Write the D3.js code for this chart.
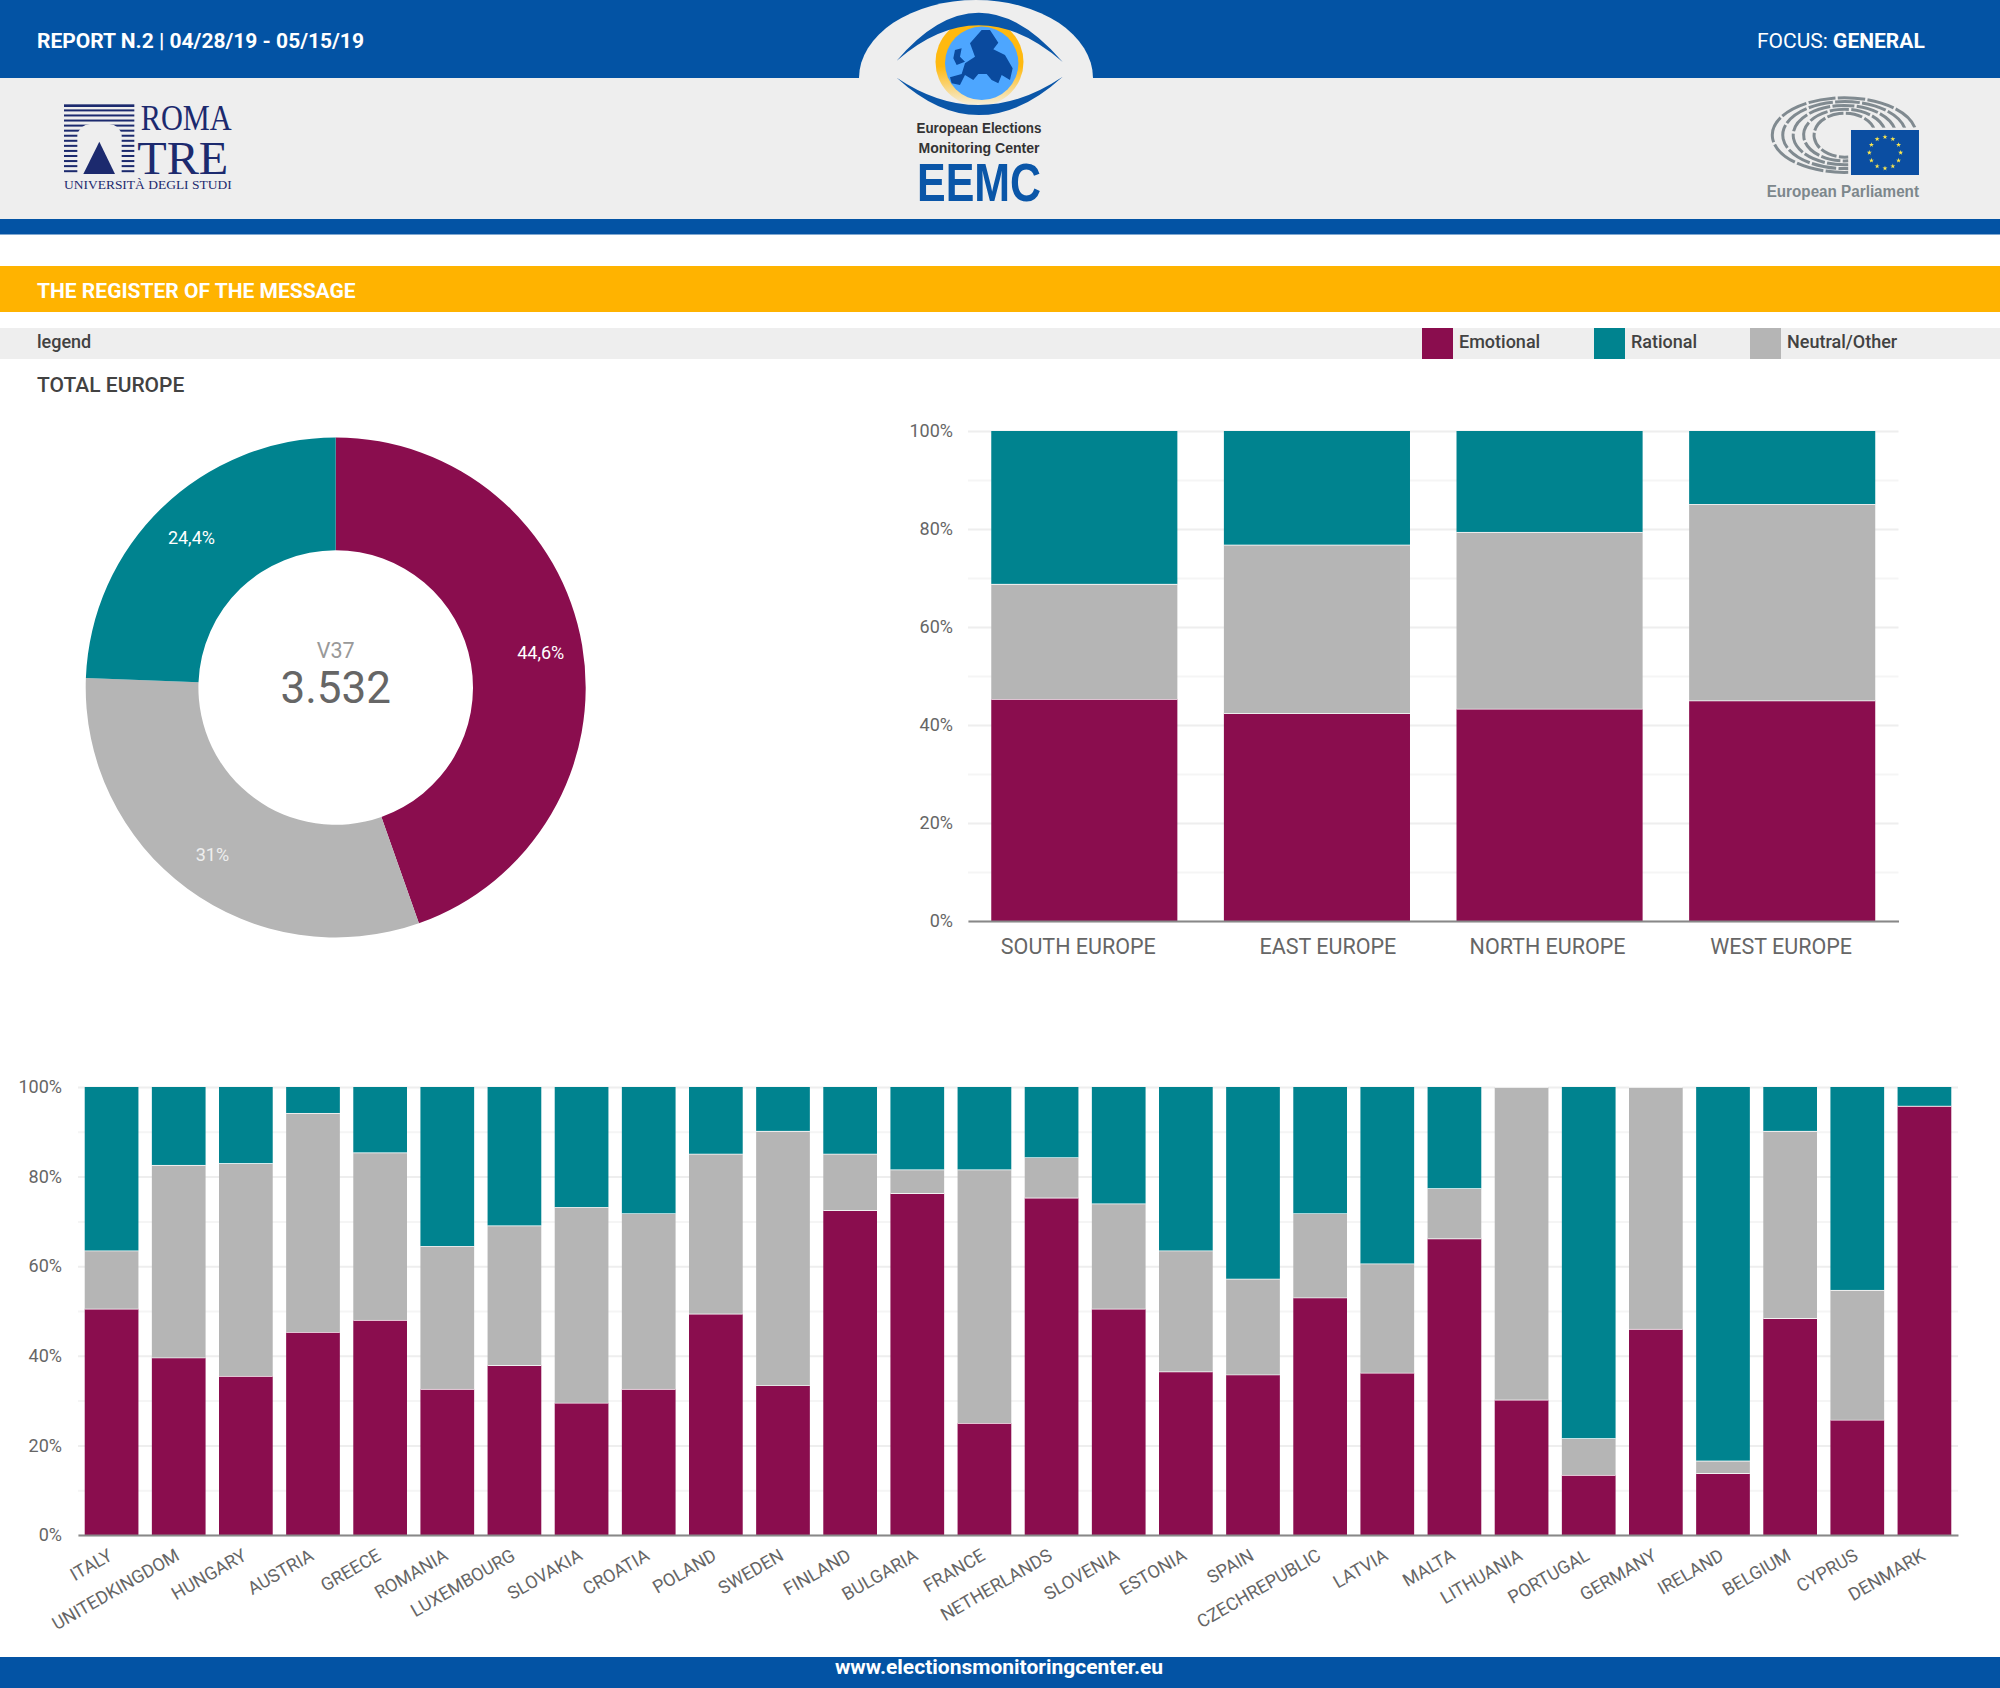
<!DOCTYPE html>

<html>
    <head>
        <meta charset="utf-8">
        <title>The register of the message</title>
        <style type="text/css">
            body {
                margin: 0;
                background-color: #ffffff;
            }

            svg {
                display: block;
            }

            text {
                font-family: Roboto, sans-serif;
            }

            .grid line {
                stroke-width: 2px;
            }

            .grid path, .ticks path {
                display: none;
            }

            .ticks text {
                fill: #666666;
            }

            .baseline path {
                stroke: #888888;
                stroke-width: 2px;
            }

            .baseline text {
                fill: #666666;
            }
        </style>

        <script src="https://d3js.org/d3.v7.min.js"></script>
    </head>

    <body>
        <svg id="drawing-place" width="2000" height="1688"></svg>

        <script>
            const seriesNames = ["Emotional", "Neutral/Other", "Rational"];
            const seriesColours = ["#8a0d4e", "#b5b5b5", "#00838f"];

            const legendNames = ["Emotional", "Rational", "Neutral/Other"];

            const totalValues = [44.6, 31, 24.4];
            const totalLabels = ["44,6%", "31%", "24,4%"];

            const regions = ["SOUTH EUROPE", "EAST EUROPE", "NORTH EUROPE", "WEST EUROPE"];
            const regionEmotional = [45.3, 42.4, 43.3, 45.0];
            const regionNeutral = [23.5, 34.4, 36.1, 40.1];
            const regionRational = [31.2, 23.2, 20.6, 14.9];

            const countries = ["ITALY", "UNITEDKINGDOM", "HUNGARY", "AUSTRIA", "GREECE", "ROMANIA", "LUXEMBOURG",
                "SLOVAKIA", "CROATIA", "POLAND", "SWEDEN", "FINLAND", "BULGARIA", "FRANCE", "NETHERLANDS", "SLOVENIA",
                "ESTONIA", "SPAIN", "CZECHREPUBLIC", "LATVIA", "MALTA", "LITHUANIA", "PORTUGAL", "GERMANY", "IRELAND",
                "BELGIUM", "CYPRUS", "DENMARK"];
            const countryEmotional = [50.5, 39.6, 35.5, 45.3, 48.0, 32.6, 37.9, 29.5, 32.6, 49.4, 33.4, 72.5, 76.3, 25.0,
                75.3, 50.5, 36.5, 35.8, 53.0, 36.2, 66.2, 30.2, 13.4, 46.0, 13.8, 48.4, 25.7, 95.8];
            const countryNeutral = [13.0, 43.0, 47.5, 48.9, 37.4, 31.9, 31.2, 43.7, 39.2, 35.7, 56.8, 12.6, 5.3, 56.6,
                9.0, 23.5, 27.0, 21.4, 18.8, 24.4, 11.2, 69.8, 8.2, 54.0, 2.8, 41.8, 29.0, 0];
            const countryRational = [36.5, 17.4, 17.0, 5.8, 14.6, 35.5, 30.9, 26.8, 28.2, 14.9, 9.8, 14.9, 18.4, 18.4,
                15.7, 26.0, 36.5, 42.8, 28.2, 39.4, 22.6, 0, 78.4, 0, 83.4, 9.8, 45.3, 4.2];

            const percentTicks = [0, 20, 40, 60, 80, 100];
            const gridTicks = [10, 30, 50, 70, 90];

            const svg = d3.select("#drawing-place");

            const blue = "#0353a4";
            const band = "#eeeeee";
            const dark = "#424242";

            function addText(parent, str, x, y, size, weight, fill, anchor) {
                return parent.append("text")
                    .text(str)
                    .attr("x", x)
                    .attr("y", y)
                    .attr("font-size", size)
                    .attr("font-weight", weight)
                    .attr("fill", fill)
                    .attr("text-anchor", anchor || "start");
            }

            // page furniture
            svg.append("rect").attr("width", 2000).attr("height", 78).attr("fill", blue);
            svg.append("rect").attr("y", 78).attr("width", 2000).attr("height", 141).attr("fill", band);
            svg.append("rect").attr("y", 219).attr("width", 2000).attr("height", 15.5).attr("fill", blue);
            svg.append("rect").attr("y", 266).attr("width", 2000).attr("height", 46).attr("fill", "#ffb300");
            svg.append("rect").attr("y", 328).attr("width", 2000).attr("height", 31).attr("fill", band);
            svg.append("rect").attr("y", 1657).attr("width", 2000).attr("height", 31).attr("fill", blue);

            addText(svg, "REPORT N.2 | 04/28/19 - 05/15/19", 37, 48, 21, 700, "#ffffff");
            const focus = addText(svg, "FOCUS: ", 1757, 48, 21, 400, "#ffffff");
            focus.append("tspan").text("GENERAL").attr("font-weight", 700);

            addText(svg, "THE REGISTER OF THE MESSAGE", 37, 298, 21, 700, "#ffffff");
            addText(svg, "legend", 37, 348, 18, 500, dark);
            addText(svg, "TOTAL EUROPE", 37, 392, 21, 500, dark);
            addText(svg, "www.electionsmonitoringcenter.eu", 999, 1674, 21, 700, "#ffffff", "middle");

            // legend
            const legendX = d3.scaleOrdinal().domain(legendNames).range([1422, 1594, 1750]);
            const colourOf = d3.scaleOrdinal().domain(seriesNames).range(seriesColours);

            legendNames.forEach(function(name) {
                svg.append("rect")
                    .attr("x", legendX(name))
                    .attr("y", 328)
                    .attr("width", 31)
                    .attr("height", 31)
                    .attr("fill", colourOf(name));
                addText(svg, name, legendX(name) + 37, 348, 18, 500, dark);
            });

            // logo: EEMC
            const eemc = svg.append("g");
            const iris = svg.append("defs").append("linearGradient")
                .attr("id", "iris")
                .attr("x1", 0).attr("y1", 0).attr("x2", 0).attr("y2", 1);
            iris.append("stop").attr("offset", "55%").attr("stop-color", "#ffb90f");
            iris.append("stop").attr("offset", "100%").attr("stop-color", "#f4efe0");

            eemc.append("path")
                .attr("d", "M859,78 A117,78 0 0 1 1093,78 Z")
                .attr("fill", band);
            eemc.append("circle").attr("cx", 979.5).attr("cy", 62).attr("r", 44).attr("fill", "url(#iris)");
            svg.select("defs").append("clipPath").attr("id", "globe")
                .append("circle").attr("cx", 981.7).attr("cy", 63.3).attr("r", 36.7);
            eemc.append("circle").attr("cx", 981.7).attr("cy", 63.3).attr("r", 36.7).attr("fill", "#4da6ff");
            eemc.append("g")
                .attr("clip-path", "url(#globe)")
                .append("path")
                .attr("transform", "translate(850,0) scale(0.3333)")
                .attr("d", "M300,232 L335,222 L345,190 L375,170 L360,130 L395,90 L420,90 L445,128 L430,148 L465,165 L488,205 L480,240 L455,225 L445,250 L425,240 L410,222 L385,222 L370,240 L345,225 L330,255 L305,250 Z M315,150 L335,145 L330,170 L345,185 L320,195 L310,175 Z")
                .attr("fill", "#0a4a9e");
            eemc.append("path")
                .attr("d", "M896.7,60.7 Q979,-36 1062.7,62 Q979,-11 896.7,60.7 Z")
                .attr("fill", "#0a56a8");
            eemc.append("path")
                .attr("d", "M896.7,77.7 Q979,153 1062.7,76.7 Q979,133 896.7,77.7 Z")
                .attr("fill", "#0a56a8");

            addText(eemc, "European Elections", 979, 133, 14, 700, "#333333", "middle")
                .style("font-family", "'Liberation Sans'")
                .attr("textLength", 125).attr("lengthAdjust", "spacingAndGlyphs");
            addText(eemc, "Monitoring Center", 979, 152.5, 14, 700, "#333333", "middle")
                .style("font-family", "'Liberation Sans'")
                .attr("textLength", 121).attr("lengthAdjust", "spacingAndGlyphs");
            addText(eemc, "EEMC", 979, 201, 54, 700, "#0a56a8", "middle")
                .style("font-family", "'Liberation Sans'")
                .attr("textLength", 124).attr("lengthAdjust", "spacingAndGlyphs");

            // logo: Roma Tre, sketched in zoomed units
            const romaColour = "#1c2a6e";
            const roma = svg.append("g").attr("transform", "translate(50,90) scale(0.3333)");
            d3.range(14).forEach(function(i) {
                roma.append("rect")
                    .attr("x", 42)
                    .attr("y", 43 + i * 15.2)
                    .attr("width", 211)
                    .attr("height", i < 1 ? 8 : 6)
                    .attr("fill", romaColour);
            });
            roma.append("path")
                .attr("d", "M82,256 L82,135 Q90,105 120,102 L178,102 Q208,105 215,135 L215,256 Z")
                .attr("fill", band);
            roma.append("path").attr("d", "M100,252 L148,155 L195,252 Z").attr("fill", romaColour);
            addText(roma, "ROMA", 272, 120, 108, 400, romaColour)
                .style("font-family", "'Liberation Serif'")
                .attr("textLength", 273).attr("lengthAdjust", "spacingAndGlyphs");
            addText(roma, "TRE", 262, 252, 138, 400, romaColour)
                .style("font-family", "'Liberation Serif'")
                .attr("textLength", 273).attr("lengthAdjust", "spacingAndGlyphs");
            addText(roma, "UNIVERSITÀ DEGLI STUDI", 42, 297, 40, 400, romaColour)
                .style("font-family", "'Liberation Serif'")
                .attr("textLength", 503).attr("lengthAdjust", "spacingAndGlyphs");

            // logo: European Parliament, sketched in zoomed units
            const ep = svg.append("g").attr("transform", "translate(1750,85) scale(0.3333)");
            d3.range(5).forEach(function(i) {
                const rx = 92 + i * 31;
                const ry = 66 + i * 11.5;
                ep.append("path")
                    .attr("d", `M${285 + rx * 0.97},${150 - ry * 0.2} A${rx},${ry} 0 1 0 ${295},${150 + ry}`)
                    .attr("fill", "none")
                    .attr("stroke", "#808a90")
                    .attr("stroke-width", 9)
                    .attr("stroke-dasharray", `${50 + i * 8} 7`);
            });
            ep.append("rect")
                .attr("x", 296).attr("y", 128).attr("width", 218).attr("height", 150)
                .attr("fill", band);
            ep.append("rect")
                .attr("x", 303).attr("y", 135).attr("width", 204).attr("height", 135)
                .attr("fill", "#0b4ea2");
            const star = d3.symbol().type(d3.symbolStar).size(70);
            d3.range(12).forEach(function(i) {
                const a = i * Math.PI / 6;
                ep.append("path")
                    .attr("d", star())
                    .attr("transform", `translate(${405 + 47 * Math.sin(a)},${203 - 47 * Math.cos(a)})`)
                    .attr("fill", "#ffe94d");
            });
            addText(ep, "European Parliament", 50, 336, 52, 700, "#7d878c")
                .style("font-family", "'Liberation Sans'")
                .attr("textLength", 457).attr("lengthAdjust", "spacingAndGlyphs");

            // donut
            const donut = svg.append("g").attr("transform", "translate(335.7,687.5)");
            const pie = d3.pie().sort(null);
            const arc = d3.arc().innerRadius(137.3).outerRadius(250);
            const labelArc = d3.arc().innerRadius(208).outerRadius(208);
            const slices = pie(totalValues);

            donut.selectAll("path")
                .data(slices)
                .join("path")
                .attr("d", arc)
                .attr("fill", (d, i) => seriesColours[i]);

            donut.selectAll("text")
                .data(slices)
                .join("text")
                .text((d, i) => totalLabels[i])
                .attr("transform", d => `translate(${labelArc.centroid(d)})`)
                .attr("dy", "0.35em")
                .attr("text-anchor", "middle")
                .attr("font-size", 18)
                .attr("fill", (d, i) => i === 1 ? "#eeeeee" : "#ffffff");

            addText(donut, "V37", 0, -30, 21.5, 400, "#999999", "middle");
            addText(donut, "3.532", 0, 15.5, 44, 400, "#666666", "middle");

            // stacked bars, shared by both charts
            function stackedChart(names, emotional, neutral, rational, box, fontSize) {
                const rows = names.map(function(name, i) {
                    return {name: name, "Emotional": emotional[i], "Neutral/Other": neutral[i], "Rational": rational[i]};
                });
                const layers = d3.stack().keys(seriesNames)(rows);

                const x = d3.scaleBand()
                    .domain(names)
                    .range([box.left, box.right])
                    .paddingInner(0.2)
                    .paddingOuter(0.1);
                const y = d3.scaleLinear()
                    .domain([0, 100])
                    .range([box.bottom, box.top]);

                const g = svg.append("g");

                g.append("g")
                    .attr("class", "grid")
                    .attr("transform", `translate(${box.left},0)`)
                    .call(d3.axisLeft(y).tickValues(gridTicks).tickSize(box.left - box.right).tickFormat(""))
                    .selectAll("line").attr("stroke", "#f5f5f5");
                g.append("g")
                    .attr("class", "grid")
                    .attr("transform", `translate(${box.left},0)`)
                    .call(d3.axisLeft(y).tickValues(percentTicks).tickSize(box.left - box.right).tickFormat(""))
                    .selectAll("line").attr("stroke", "#eeeeee");

                const layer = g.selectAll("g.layer")
                    .data(layers)
                    .join("g")
                    .attr("class", "layer")
                    .attr("fill", d => colourOf(d.key));

                layer.selectAll("rect")
                    .data(d => d)
                    .join("rect")
                    .attr("x", d => x(d.data.name))
                    .attr("y", d => y(d[1]))
                    .attr("width", x.bandwidth())
                    .attr("height", d => y(d[0]) - y(d[1]));

                // thin white gap between segments
                layer.filter(d => d.key !== "Rational")
                    .selectAll("line")
                    .data(d => d)
                    .join("line")
                    .attr("x1", d => x(d.data.name))
                    .attr("x2", d => x(d.data.name) + x.bandwidth())
                    .attr("y1", d => y(d[1]))
                    .attr("y2", d => y(d[1]))
                    .attr("stroke", "#ffffff")
                    .attr("stroke-width", 1.5);

                g.append("g")
                    .attr("class", "ticks")
                    .attr("transform", `translate(${box.left},0)`)
                    .call(d3.axisLeft(y).tickValues(percentTicks).tickSize(0).tickPadding(box.left - box.tickEnd).tickFormat(d => d + "%"))
                    .selectAll("text")
                    .attr("font-size", 18)
                    .style("font-family", "Roboto, sans-serif");

                return g.append("g")
                    .attr("class", "baseline")
                    .attr("transform", `translate(0,${box.bottom})`)
                    .call(d3.axisBottom(x).tickSize(0))
                    .call(a => a.selectAll("text")
                        .attr("font-size", fontSize)
                        .style("font-family", "Roboto, sans-serif"));
            }

            const regionAxis = stackedChart(regions, regionEmotional, regionNeutral, regionRational,
                {left: 968, right: 1898.5, top: 431, bottom: 921, tickEnd: 953}, 21.5);
            regionAxis.selectAll("text")
                .attr("y", 18)
                .attr("dx", (d, i) => [-6, 11, -2, -1][i]);

            const countryAxis = stackedChart(countries, countryEmotional, countryNeutral, countryRational,
                {left: 78, right: 1958, top: 1087, bottom: 1535, tickEnd: 62}, 18);
            countryAxis.selectAll("text")
                .attr("text-anchor", "end")
                .attr("y", 0)
                .attr("dy", 0)
                .attr("transform", "translate(2,24) rotate(-30)");
        </script>
    </body>

</html>
